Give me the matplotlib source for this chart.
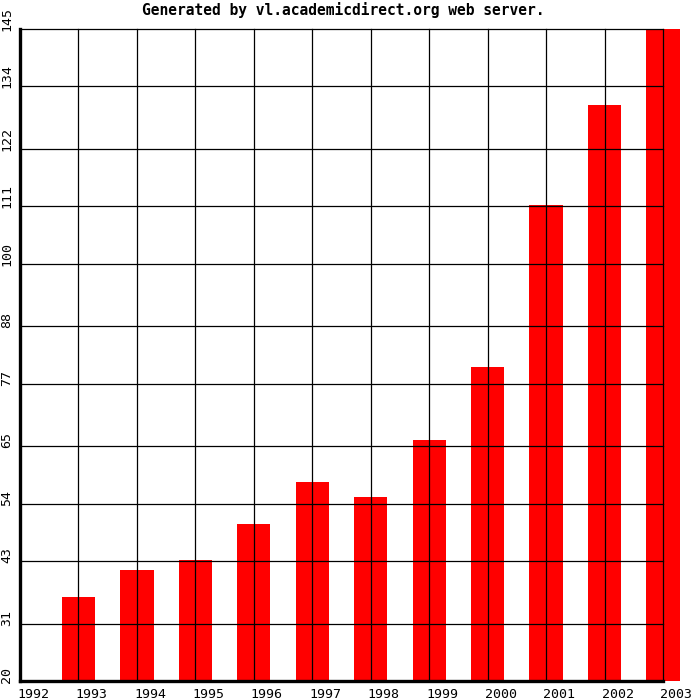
import matplotlib.pyplot as plt
from matplotlib.transforms import ScaledTranslation

# Data
years = [1993, 1994, 1995, 1996, 1997, 1998, 1999, 2000, 2001, 2002, 2003]
values = [36.1, 41.3, 43.2, 50.1, 58.2, 55.3, 66.2, 80.2, 111.3, 130.4, 145.0]
x_ticks = list(range(1992, 2004))
y_ticks = [20, 31, 43, 54, 65, 77, 88, 100, 111, 122, 134, 145]
title = "Generated by vl.academicdirect.org web server."

Y_MIN, Y_MAX = 20, 145
MONO = "DejaVu Sans Mono"


def main() -> None:
    fig = plt.figure(figsize=(7, 7), dpi=100)
    ax = fig.add_axes([20 / 700, 19 / 700, 643 / 700, 652 / 700])

    # Bars grow from the bottom of the axis; the last one spills past the frame
    ax.bar(years, [v - Y_MIN for v in values], bottom=Y_MIN, width=0.57,
           color="#ff0000", linewidth=0, clip_on=False, zorder=1)

    ax.set_xlim(x_ticks[0], x_ticks[-1])
    ax.set_ylim(Y_MIN, Y_MAX)

    # Grid drawn over the bars, edge lines included
    ax.set_axisbelow(False)
    ax.grid(True, color="black", linewidth=0.9, zorder=2)

    for side in ("top", "right"):
        ax.spines[side].set_visible(False)
    for side in ("left", "bottom"):
        ax.spines[side].set_linewidth(2.4)
        ax.spines[side].set_zorder(3)

    ax.set_xticks(x_ticks)
    ax.set_xticklabels([str(y) for y in x_ticks], ha="left",
                       fontfamily=MONO, fontsize=9.5)
    ax.set_yticks(y_ticks)
    ax.set_yticklabels([str(v) for v in y_ticks], rotation=90, va="bottom",
                       ha="right", fontfamily=MONO, fontsize=9.5)
    ax.tick_params(axis="x", length=0, pad=5)
    ax.tick_params(axis="y", length=0, pad=5)

    for line in ax.get_xgridlines() + ax.get_ygridlines():
        line.set_clip_on(False)

    # shift x labels so they start just left of the grid line
    shift = ScaledTranslation(-3 / 100, 0, fig.dpi_scale_trans)
    for lbl in ax.get_xticklabels():
        lbl.set_transform(lbl.get_transform() + shift)
    shift_y = ScaledTranslation(0, -2 / 100, fig.dpi_scale_trans)
    for lbl in ax.get_yticklabels():
        lbl.set_transform(lbl.get_transform() + shift_y)

    fig.text(343 / 700, 1 - 10 / 700, title, ha="center", va="center",
             fontfamily=MONO, fontweight="bold", fontsize=10.5)

    fig.savefig("out.png", dpi=100)


if __name__ == "__main__":
    main()
